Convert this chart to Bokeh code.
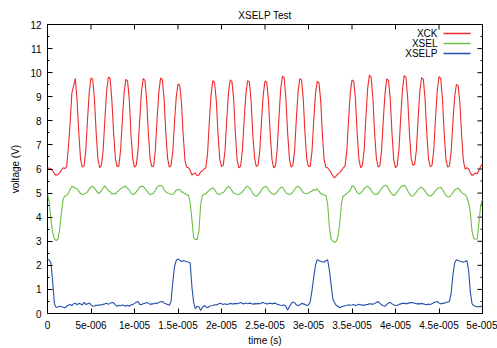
import math
from bokeh.plotting import figure
from bokeh.models import (LinearAxis, FixedTicker, Range1d, ColumnDataSource,
                          Label, Arrow)
from bokeh.embed import file_html
from bokeh.resources import INLINE

# ---------------- data ----------------
TITLE = "XSELP Test"
X_LABEL = "time (s)"
Y_LABEL = "voltage (V)"
SERIES_NAMES = ["XCK", "XSEL", "XSELP"]
SERIES_COLORS = ["#ee2a2a", "#6cbf45", "#2452a8"]

X_TICKS_US = [0, 5, 10, 15, 20, 25, 30, 35, 40, 45, 50]
X_TICK_LABELS = ["0", "5e-006", "1e-005", "1.5e-005", "2e-005", "2.5e-005",
                 "3e-005", "3.5e-005", "4e-005", "4.5e-005", "5e-005"]
Y_TICKS = [0, 1, 2, 3, 4, 5, 6, 7, 8, 9, 10, 11, 12]

SAMPLE_STEP_US = 0.2          # scope sample spacing (microseconds)
N_SAMPLES = 251               # 0 .. 50 us

# XCK (V): first sample, then one row per 2 us (samples at +0.2 .. +2.0 us)
xck = [6.05,
    6.03, 6.00, 5.93, 5.80, 5.74, 5.77, 5.84, 5.95, 6.05, 6.02,
    6.10, 6.90, 7.90, 9.15, 9.45, 9.76, 8.85, 7.50, 6.40, 6.08,
    6.12, 6.75, 8.05, 9.20, 9.78, 9.72, 8.90, 7.45, 6.40, 6.05,
    6.15, 6.80, 8.10, 9.25, 9.82, 9.75, 8.85, 7.50, 6.45, 6.10,
    6.12, 6.78, 8.00, 9.15, 9.72, 9.66, 8.90, 7.40, 6.42, 6.08,
    6.15, 6.75, 8.05, 9.20, 9.75, 9.68, 8.85, 7.45, 6.40, 6.10,
    6.12, 6.80, 8.10, 9.20, 9.78, 9.70, 8.90, 7.50, 6.45, 6.08,
    6.15, 6.72, 7.95, 9.00, 9.53, 9.48, 8.75, 7.40, 6.35, 6.07,
    6.05, 5.95, 5.75, 5.80, 5.83, 5.72, 5.75, 5.88, 5.92, 6.00,
    6.05, 6.65, 7.95, 9.10, 9.67, 9.60, 8.85, 7.45, 6.40, 6.10,
    6.15, 6.75, 8.00, 9.15, 9.70, 9.63, 8.90, 7.45, 6.35, 6.05,
    6.12, 6.78, 8.00, 9.10, 9.67, 9.62, 8.85, 7.40, 6.45, 6.10,
    6.15, 6.75, 8.00, 9.10, 9.65, 9.60, 8.85, 7.45, 6.40, 6.05,
    6.12, 6.80, 8.10, 9.30, 9.86, 9.78, 8.95, 7.50, 6.45, 6.08,
    6.15, 6.75, 8.05, 9.20, 9.75, 9.70, 8.90, 7.45, 6.40, 6.10,
    6.12, 6.72, 8.00, 9.10, 9.64, 9.58, 8.85, 7.40, 6.38, 6.07,
    6.05, 5.95, 5.85, 5.70, 5.63, 5.72, 5.80, 5.85, 5.95, 6.05,
    6.12, 6.72, 8.00, 9.15, 9.70, 9.64, 8.90, 7.45, 6.38, 6.05,
    6.15, 6.80, 8.15, 9.35, 9.90, 9.80, 8.95, 7.50, 6.45, 6.08,
    6.12, 6.78, 8.05, 9.15, 9.74, 9.68, 8.90, 7.45, 6.38, 6.05,
    6.15, 6.82, 8.15, 9.30, 9.88, 9.80, 8.95, 7.50, 6.45, 6.15,
    6.20, 6.78, 8.10, 9.25, 9.79, 9.72, 8.90, 7.45, 6.40, 6.10,
    6.15, 6.80, 8.10, 9.25, 9.83, 9.76, 8.90, 7.45, 6.38, 6.08,
    6.12, 6.72, 7.95, 9.00, 9.51, 9.46, 8.75, 7.40, 6.35, 6.00,
    6.05, 6.00, 5.85, 5.73, 5.78, 5.83, 5.80, 5.95, 6.12, 6.20]

# XSEL (V)
xsel = [4.97,
    4.60, 3.90, 3.35, 3.10, 3.03, 3.08, 3.50, 4.20, 4.75, 4.88,
    4.90, 5.00, 5.15, 5.27, 5.27, 5.20, 5.18, 5.08, 4.98, 4.94,
    4.95, 5.00, 5.05, 5.18, 5.25, 5.28, 5.20, 5.10, 5.00, 5.00,
    5.10, 5.22, 5.30, 5.20, 5.10, 5.05, 4.95, 5.00, 4.95, 5.05,
    5.10, 5.18, 5.22, 5.28, 5.28, 5.20, 5.12, 5.00, 4.94, 4.96,
    5.05, 5.15, 5.25, 5.28, 5.28, 5.20, 5.10, 5.00, 4.94, 4.96,
    5.00, 5.12, 5.25, 5.30, 5.32, 5.28, 5.15, 5.05, 5.00, 4.97,
    4.95, 4.94, 5.02, 5.12, 5.15, 5.15, 5.05, 5.03, 4.97, 4.94,
    4.90, 4.60, 3.90, 3.15, 3.07, 3.07, 3.40, 4.50, 4.90, 4.95,
    4.97, 5.05, 5.12, 5.18, 5.22, 5.15, 5.02, 4.95, 4.95, 5.00,
    5.02, 5.10, 5.22, 5.28, 5.22, 5.10, 5.00, 4.97, 4.95, 4.94,
    4.98, 5.05, 5.15, 5.25, 5.28, 5.22, 5.12, 5.00, 4.90, 4.87,
    4.92, 5.02, 5.12, 5.22, 5.28, 5.25, 5.15, 5.05, 4.97, 4.94,
    4.98, 5.05, 5.15, 5.22, 5.25, 5.15, 5.02, 4.97, 4.94, 4.97,
    5.05, 5.15, 5.25, 5.28, 5.22, 5.12, 5.02, 4.98, 4.97, 5.00,
    5.05, 5.08, 5.15, 5.12, 5.18, 5.08, 4.98, 4.94, 4.92, 4.90,
    4.55, 3.60, 3.10, 3.00, 2.96, 3.00, 3.20, 3.80, 4.60, 4.88,
    4.92, 4.98, 5.05, 5.10, 5.30, 5.28, 5.15, 5.02, 4.97, 5.00,
    5.08, 5.18, 5.25, 5.28, 5.22, 5.12, 5.00, 4.95, 4.94, 4.98,
    5.08, 5.18, 5.28, 5.32, 5.30, 5.18, 5.05, 4.95, 4.90, 4.95,
    5.05, 5.15, 5.25, 5.30, 5.32, 5.25, 5.10, 4.98, 4.88, 4.87,
    4.95, 5.05, 5.15, 5.22, 5.24, 5.18, 5.08, 4.97, 4.90, 4.87,
    4.92, 5.00, 5.10, 5.18, 5.22, 5.24, 5.15, 5.02, 4.90, 4.85,
    4.84, 4.92, 5.02, 5.12, 5.18, 5.20, 5.12, 5.03, 4.97, 4.93,
    4.83, 4.60, 4.20, 3.40, 3.10, 3.08, 3.10, 3.80, 4.50, 4.75]

# XSELP (V)
xselp = [2.25,
    2.22, 2.10, 1.30, 0.40, 0.25, 0.27, 0.30, 0.28, 0.26, 0.24,
    0.30, 0.34, 0.37, 0.33, 0.40, 0.43, 0.36, 0.42, 0.40, 0.35,
    0.46, 0.38, 0.40, 0.44, 0.36, 0.30, 0.31, 0.35, 0.33, 0.36,
    0.35, 0.38, 0.40, 0.43, 0.38, 0.42, 0.46, 0.44, 0.36, 0.30,
    0.34, 0.32, 0.35, 0.33, 0.30, 0.34, 0.30, 0.36, 0.37, 0.42,
    0.47, 0.50, 0.38, 0.37, 0.40, 0.43, 0.46, 0.42, 0.38, 0.40,
    0.40, 0.44, 0.41, 0.46, 0.49, 0.50, 0.44, 0.40, 0.37, 0.34,
    0.50, 1.30, 1.95, 2.20, 2.27, 2.22, 2.15, 2.20, 2.18, 2.15,
    2.14, 2.10, 1.10, 0.45, 0.20, 0.30, 0.28, 0.13, 0.25, 0.33,
    0.28, 0.24, 0.30, 0.32, 0.33, 0.36, 0.35, 0.38, 0.43, 0.40,
    0.37, 0.40, 0.37, 0.39, 0.42, 0.40, 0.40, 0.42, 0.40, 0.43,
    0.46, 0.42, 0.40, 0.44, 0.40, 0.43, 0.42, 0.38, 0.41, 0.40,
    0.42, 0.40, 0.44, 0.46, 0.42, 0.40, 0.41, 0.43, 0.40, 0.42,
    0.43, 0.38, 0.36, 0.34, 0.33, 0.36, 0.30, 0.15, 0.28, 0.40,
    0.48, 0.45, 0.36, 0.33, 0.35, 0.42, 0.40, 0.38, 0.33, 0.35,
    0.50, 0.95, 1.50, 2.00, 2.23, 2.20, 2.17, 2.15, 2.13, 2.20,
    2.23, 1.80, 1.20, 0.60, 0.45, 0.33, 0.30, 0.24, 0.28, 0.30,
    0.32, 0.33, 0.36, 0.34, 0.35, 0.37, 0.33, 0.35, 0.38, 0.35,
    0.36, 0.33, 0.37, 0.38, 0.40, 0.40, 0.38, 0.42, 0.46, 0.50,
    0.42, 0.36, 0.32, 0.30, 0.38, 0.44, 0.46, 0.40, 0.36, 0.33,
    0.33, 0.38, 0.40, 0.42, 0.43, 0.40, 0.42, 0.44, 0.46, 0.45,
    0.43, 0.40, 0.41, 0.40, 0.42, 0.40, 0.38, 0.37, 0.39, 0.37,
    0.41, 0.45, 0.48, 0.50, 0.44, 0.40, 0.42, 0.43, 0.46, 0.48,
    0.50, 0.85, 1.60, 2.10, 2.23, 2.20, 2.17, 2.15, 2.13, 2.16,
    2.20, 1.80, 0.90, 0.40, 0.33, 0.30, 0.28, 0.29, 0.28, 0.33]

time_us = [round(i * SAMPLE_STEP_US, 1) for i in range(N_SAMPLES)]
assert len(xck) == len(xsel) == len(xselp) == N_SAMPLES

# ---------------- figure ----------------
FONT = "Liberation Sans"
FS = "10px"

source = ColumnDataSource(data=dict(t=time_us, xck=xck, xsel=xsel, xselp=xselp))

p = figure(width=497, height=348, output_backend="svg", toolbar_location=None,
           x_range=Range1d(X_TICKS_US[0], X_TICKS_US[-1]),
           y_range=Range1d(Y_TICKS[0], Y_TICKS[-1]),
           x_axis_type=None, y_axis_type=None, title=TITLE,
           min_border_left=47, min_border_right=15, min_border_top=24,
           min_border_bottom=35)
p.background_fill_color = "white"
p.border_fill_color = "white"
p.outline_line_color = "black"
p.outline_line_width = 1
p.outline_line_alpha = 1

p.title.text_font = FONT
p.title.text_font_size = FS
p.title.text_font_style = "normal"
p.title.text_color = "black"
p.title.align = "center"
p.title.standoff = 7

x_ticker = FixedTicker(ticks=X_TICKS_US, minor_ticks=[])
Y_MINOR = [v + 0.5 for v in Y_TICKS[:-1]]
y_ticker = FixedTicker(ticks=Y_TICKS, minor_ticks=Y_MINOR)


def style_axis(ax):
    ax.axis_line_color = None
    ax.major_tick_in = 5
    ax.major_tick_out = 0
    ax.minor_tick_in = 2
    ax.minor_tick_out = 0
    ax.major_tick_line_color = "black"
    ax.minor_tick_line_color = "black"
    ax.major_label_text_font = FONT
    ax.major_label_text_font_size = FS
    ax.major_label_text_color = "black"
    ax.axis_label_text_font = FONT
    ax.axis_label_text_font_size = FS
    ax.axis_label_text_font_style = "normal"
    ax.axis_label_text_color = "black"


xb = LinearAxis(ticker=x_ticker, axis_label=X_LABEL,
                major_label_overrides={t: l for t, l in zip(X_TICKS_US, X_TICK_LABELS)})
style_axis(xb)
xb.major_label_standoff = 7
xb.axis_label_standoff = 3
p.add_layout(xb, "below")

yl = LinearAxis(ticker=y_ticker, axis_label=Y_LABEL)
style_axis(yl)
yl.major_label_standoff = 6
yl.axis_label_standoff = 6
p.add_layout(yl, "left")

# mirrored ticks on the top and right frame edges (clipped to the frame -> inward)
x_end = X_TICKS_US[-1]
y_end = Y_TICKS[-1]
p.scatter(x=X_TICKS_US, y=[y_end] * len(X_TICKS_US), marker="dash", size=10,
          angle=math.pi / 2, line_color="black", line_width=1)
p.scatter(x=[x_end] * len(Y_TICKS), y=Y_TICKS, marker="dash", size=10,
          line_color="black", line_width=1)
p.scatter(x=[x_end] * len(Y_MINOR), y=Y_MINOR, marker="dash", size=4,
          line_color="black", line_width=1)

for col, color in zip(["xck", "xsel", "xselp"], SERIES_COLORS):
    p.line("t", col, source=source, line_color=color, line_width=1.1)

# legend (gnuplot style: right-aligned label, sample line to its right)
LEG_TEXT_RIGHT = 390     # px from frame left
LEG_LINE_X0 = 396
LEG_LINE_X1 = 423
LEG_ROW0 = 280           # px from frame bottom
LEG_ROW_STEP = 10
for i, (name, color) in enumerate(zip(SERIES_NAMES, SERIES_COLORS)):
    yy = LEG_ROW0 - i * LEG_ROW_STEP
    p.add_layout(Label(x=LEG_TEXT_RIGHT, y=yy, x_units="screen", y_units="screen",
                       text=name, text_align="right", text_baseline="middle",
                       text_font=FONT, text_font_size=FS, text_color="black"))
    p.add_layout(Arrow(x_start=LEG_LINE_X0, y_start=yy, x_end=LEG_LINE_X1, y_end=yy,
                       start_units="screen", end_units="screen", start=None, end=None,
                       line_color=color, line_width=1.3))

with open("out.html", "w") as f:
    f.write(file_html(p, INLINE))
